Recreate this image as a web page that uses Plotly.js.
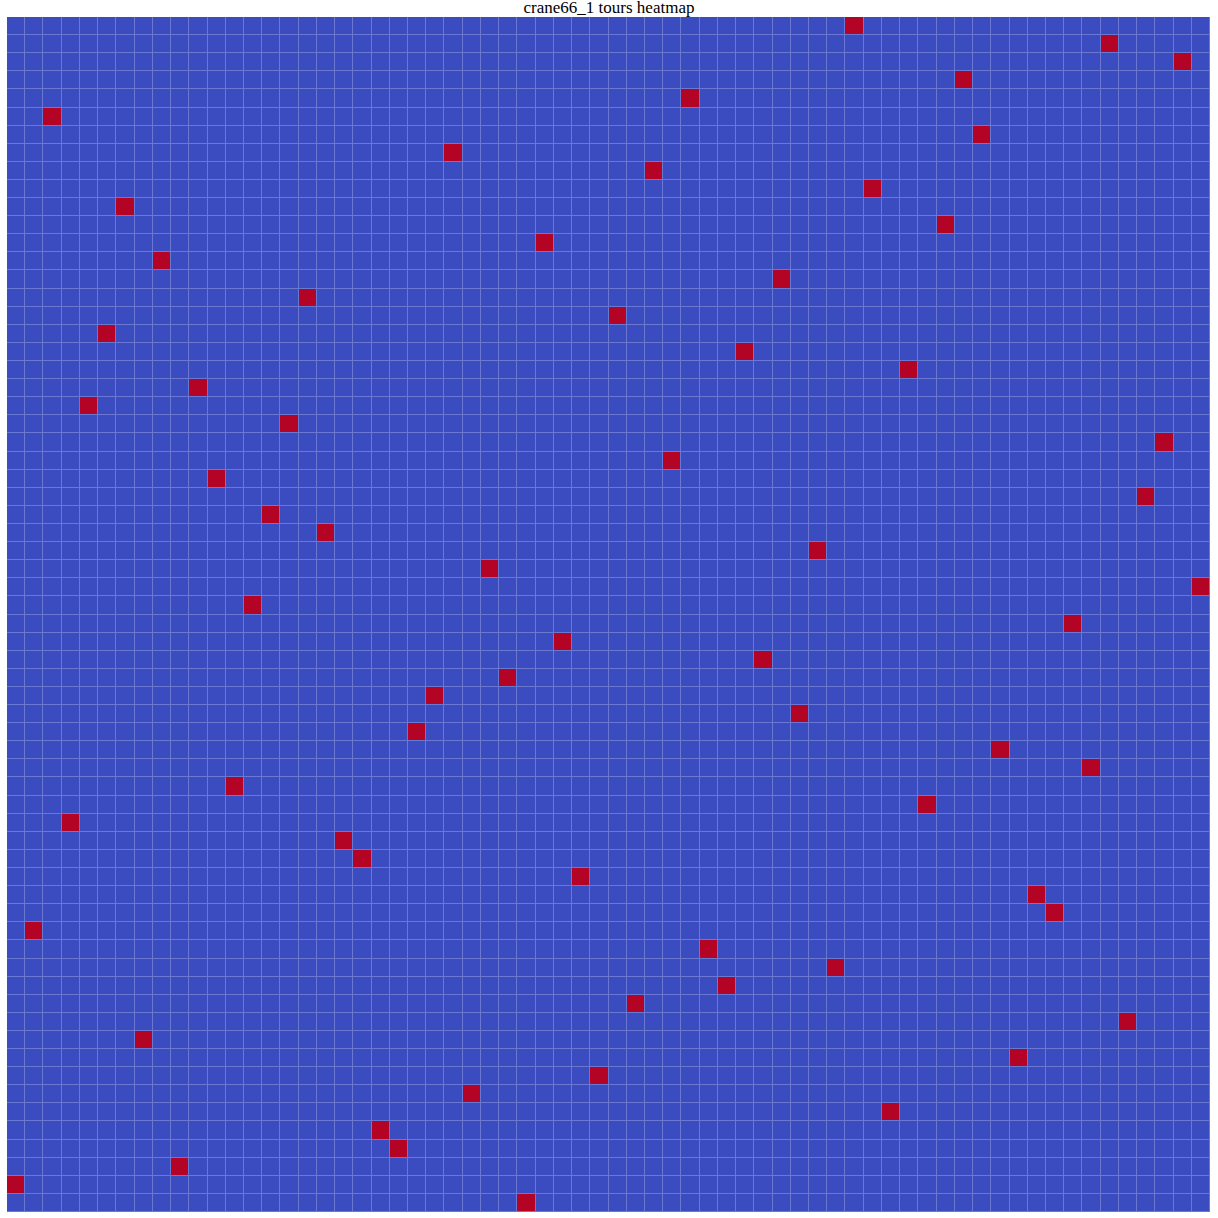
<!DOCTYPE html>
<html>
<head>
<meta charset="utf-8">
<script src="https://cdn.plot.ly/plotly-3.0.1.min.js"></script>
<style>html,body{margin:0;padding:0;background:#fff;}#chart{width:1218px;height:1218px;}</style>
</head>
<body>
<div id="chart"></div>
<script>
// Column index of the visited cell in each row (row 0 = top)
const tourCols = [46,60,64,52,37,2,53,24,35,47,6,51,29,8,42,16,33,5,40,49,10,4,15,63,36,11,62,14,17,44,26,65,13,58,30,41,27,23,43,22,54,59,12,50,3,18,19,31,56,57,1,38,45,39,34,61,7,55,32,25,48,20,21,9,0,28];
const gridSize = 66;
const titleText = "crane66_1 tours heatmap";

const z = [];
for (let r = 0; r < gridSize; r++) {
  const row = new Array(gridSize).fill(0);
  row[tourCols[r]] = 1;
  z.push(row);
}

const trace = {
  type: 'heatmap',
  z: z,
  colorscale: [[0, '#3b4cc0'], [1, '#b40426']],
  zmin: 0, zmax: 1,
  showscale: false,
  xgap: 1, ygap: 1,
  hoverinfo: 'skip'
};

const layout = {
  width: 1218, height: 1218,
  margin: {l: 7, r: 8, t: 17, b: 6, pad: 0},
  paper_bgcolor: '#ffffff',
  plot_bgcolor: '#6a78d1',
  title: {text: titleText, font: {family: 'Liberation Serif, serif', size: 17, color: '#000'}, x: 0.5, xanchor: 'center', y: 0.9995, yanchor: 'top', yref: 'container', pad: {t: 0}},
  xaxis: {showgrid: false, zeroline: false, showticklabels: false, ticks: '', range: [-0.5, gridSize - 0.5]},
  yaxis: {showgrid: false, zeroline: false, showticklabels: false, ticks: '', range: [gridSize - 0.5, -0.5]}
};

Plotly.newPlot('chart', [trace], layout, {displayModeBar: false, staticPlot: true});
</script>
</body>
</html>
